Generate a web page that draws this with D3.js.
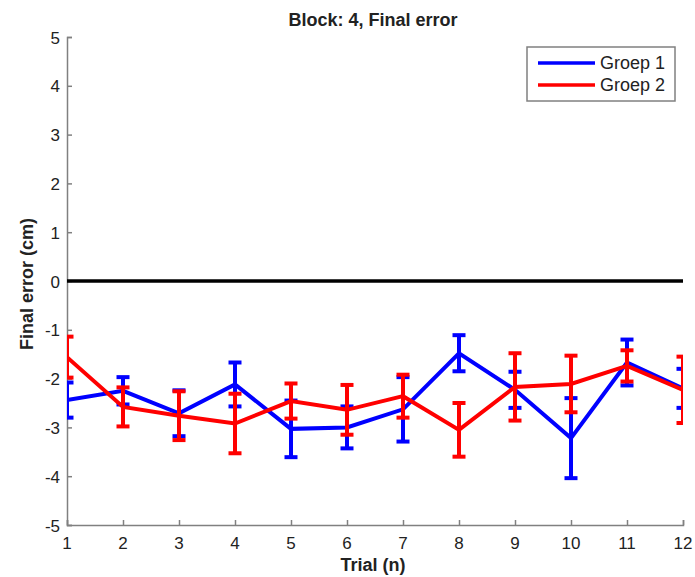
<!DOCTYPE html>
<html>
<head>
<meta charset="utf-8">
<script src="https://cdn.jsdelivr.net/npm/d3@7"></script>
<style>
  body { margin: 0; background: #fff; }
  text { font-family: "Liberation Sans", Arial, sans-serif; fill: #222; }
</style>
</head>
<body>
<svg width="695" height="577"></svg>
<script>
var trials = [1, 2, 3, 4, 5, 6, 7, 8, 9, 10, 11, 12];
var groep1 = [-2.44, -2.25, -2.71, -2.12, -3.03, -3.00, -2.63, -1.48, -2.23, -3.22, -1.67, -2.20];
var groep1Err = [0.36, 0.28, 0.47, 0.45, 0.58, 0.43, 0.66, 0.37, 0.37, 0.82, 0.47, 0.40];
var groep2 = [-1.56, -2.58, -2.76, -2.92, -2.46, -2.64, -2.36, -3.05, -2.17, -2.11, -1.74, -2.23];
var groep2Err = [0.42, 0.40, 0.50, 0.61, 0.36, 0.51, 0.44, 0.55, 0.69, 0.58, 0.32, 0.68];
var yTicks = [-5, -4, -3, -2, -1, 0, 1, 2, 3, 4, 5];

var svgWidth = 695, svgHeight = 577;
var plotLeft = 67, plotRight = 683, plotTop = 37, plotBottom = 525;

var svg = d3.select("svg");

var xScale = d3.scaleLinear().domain([1, 12]).range([plotLeft, plotRight]);
var yScale = d3.scaleLinear().domain([-5, 5]).range([plotBottom, plotTop]);

svg.append("defs").append("clipPath").attr("id", "plot")
  .append("rect")
  .attr("x", plotLeft).attr("y", plotTop)
  .attr("width", plotRight - plotLeft).attr("height", plotBottom - plotTop);

// axes: only left and bottom, ticks inward
var x_axis = d3.axisTop(xScale).tickValues(trials).tickSize(5).tickFormat("");
var y_axis = d3.axisRight(yScale).tickValues(yTicks).tickSize(5).tickFormat("");

var gx = svg.append("g").attr("transform", "translate(0," + plotBottom + ")").call(x_axis);
var gy = svg.append("g").attr("transform", "translate(" + plotLeft + ",0)").call(y_axis);
[gx, gy].forEach(function (g) {
  g.select(".domain").attr("stroke", "#808080").attr("stroke-width", 1.5);
  g.selectAll(".tick line").attr("stroke", "#808080").attr("stroke-width", 1.5);
});

svg.selectAll(".xlab")
  .data(trials)
  .enter()
  .append("text")
  .attr("x", function (d) { return xScale(d); })
  .attr("y", plotBottom + 24)
  .attr("text-anchor", "middle")
  .style("font-size", "17px")
  .text(function (d) { return d; });

svg.selectAll(".ylab")
  .data(yTicks)
  .enter()
  .append("text")
  .attr("x", plotLeft - 7)
  .attr("y", function (d) { return yScale(d) + 6.5; })
  .attr("text-anchor", "end")
  .style("font-size", "17px")
  .text(function (d) { return d; });

// zero line
svg.append("line")
  .attr("x1", xScale(1)).attr("x2", xScale(12))
  .attr("y1", yScale(0)).attr("y2", yScale(0))
  .attr("stroke", "#000").attr("stroke-width", 3.5);

var plot = svg.append("g").attr("clip-path", "url(#plot)");

var line = d3.line()
  .x(function (d) { return xScale(d[0]); })
  .y(function (d) { return yScale(d[1]); });

var series = [
  { vals: groep1, err: groep1Err, color: "#0000ff" },
  { vals: groep2, err: groep2Err, color: "#ff0000" }
];

series.forEach(function (s) {
  var g = plot.append("g");
  var pts = trials.map(function (t, i) { return [t, s.vals[i], s.err[i]]; });
  g.append("path")
    .datum(pts)
    .attr("d", line)
    .attr("fill", "none")
    .attr("stroke", s.color)
    .attr("stroke-width", 4);

  var eb = g.selectAll(".eb").data(pts).enter().append("g");
  eb.append("line")
    .attr("x1", function (d) { return xScale(d[0]); })
    .attr("x2", function (d) { return xScale(d[0]); })
    .attr("y1", function (d) { return yScale(d[1] + d[2]); })
    .attr("y2", function (d) { return yScale(d[1] - d[2]); })
    .attr("stroke", s.color).attr("stroke-width", 4);
  [1, -1].forEach(function (sign) {
    eb.append("line")
      .attr("x1", function (d) { return xScale(d[0]) - 6.5; })
      .attr("x2", function (d) { return xScale(d[0]) + 6.5; })
      .attr("y1", function (d) { return yScale(d[1] + sign * d[2]); })
      .attr("y2", function (d) { return yScale(d[1] + sign * d[2]); })
      .attr("stroke", s.color).attr("stroke-width", 4);
  });
});

// title and labels
svg.append("text")
  .attr("x", 373).attr("y", 26)
  .attr("text-anchor", "middle")
  .style("font-size", "18px").style("font-weight", "bold")
  .text("Block: 4, Final error");

svg.append("text")
  .attr("x", 373).attr("y", 571)
  .attr("text-anchor", "middle")
  .style("font-size", "18px").style("font-weight", "bold")
  .text("Trial (n)");

svg.append("text")
  .attr("transform", "translate(33,284) rotate(-90)")
  .attr("text-anchor", "middle")
  .style("font-size", "18px").style("font-weight", "bold")
  .text("Final error (cm)");

// legend
var legend = svg.append("g");
legend.append("rect")
  .attr("x", 527).attr("y", 47).attr("width", 148).attr("height", 54)
  .attr("fill", "#fff").attr("stroke", "#808080").attr("stroke-width", 1.5);
var legendNames = ["Groep 1", "Groep 2"];
legendNames.forEach(function (name, i) {
  var y = 63 + i * 22;
  legend.append("line")
    .attr("x1", 538).attr("x2", 595).attr("y1", y).attr("y2", y)
    .attr("stroke", series[i].color).attr("stroke-width", 3.5);
  legend.append("text")
    .attr("x", 600).attr("y", y + 6)
    .style("font-size", "18px")
    .text(name);
});
</script>
</body>
</html>
